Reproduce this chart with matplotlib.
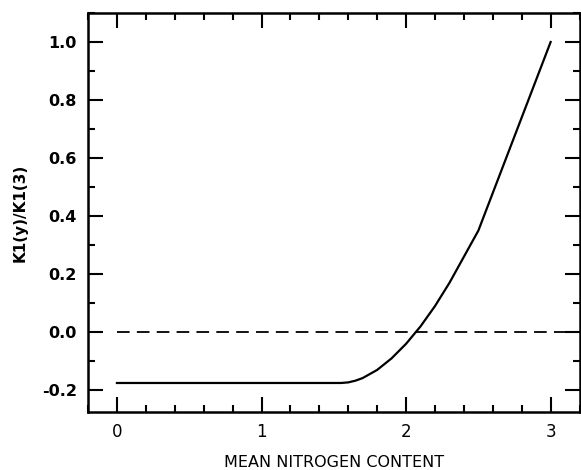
import matplotlib.pyplot as plt
from matplotlib.ticker import MultipleLocator

# curve
nitrogen = [0.0, 1.5, 1.55, 1.6, 1.65, 1.7, 1.8, 1.9, 2.0, 2.1, 2.2, 2.3, 2.4, 2.5, 2.6, 2.7, 2.8, 2.9, 3.0]
k_ratio = [-0.175, -0.175, -0.175, -0.173, -0.167, -0.158, -0.13, -0.09, -0.04, 0.02, 0.09, 0.17,
           0.26, 0.35, 0.48, 0.61, 0.74, 0.87, 1.0]
zero_x = [0.0, 3.2]
zero_y = [0.0, 0.0]

plt.rcParams['font.family'] = ['DejaVu Sans']

fig = plt.figure(figsize=(5.81, 4.70), dpi=100)
ax = fig.add_axes([0.1515, 0.1234, 0.846, 0.849])

ax.plot(nitrogen, k_ratio, color='black', linewidth=1.6)
ax.plot(zero_x, zero_y, color='black', linewidth=1.3, linestyle=(0, (7, 4)))

ax.set_xlim(-0.2, 3.2)
ax.set_ylim(-0.275, 1.1)

ax.xaxis.set_major_locator(MultipleLocator(1))
ax.xaxis.set_minor_locator(MultipleLocator(0.2))
ax.yaxis.set_major_locator(MultipleLocator(0.2))
ax.yaxis.set_minor_locator(MultipleLocator(0.1))
ax.yaxis.set_major_formatter(plt.FuncFormatter(lambda v, p: f'{v:.1f}'))

ax.tick_params(which='both', direction='in', top=True, right=True, width=1.5)
ax.tick_params(which='major', length=11, pad=8)
ax.tick_params(which='minor', length=5)
ax.tick_params(axis='x', labelsize=12)
ax.tick_params(axis='y', labelsize=11.5)
for lab in ax.get_yticklabels():
    lab.set_fontweight('bold')

for s in ax.spines.values():
    s.set_linewidth(1.8)

ax.set_xlabel('MEAN NITROGEN CONTENT', fontsize=11.5, labelpad=10)
ax.set_ylabel('K1(y)/K1(3)', fontsize=11, fontweight='bold', labelpad=10)

fig.savefig('out.png', dpi=100)
